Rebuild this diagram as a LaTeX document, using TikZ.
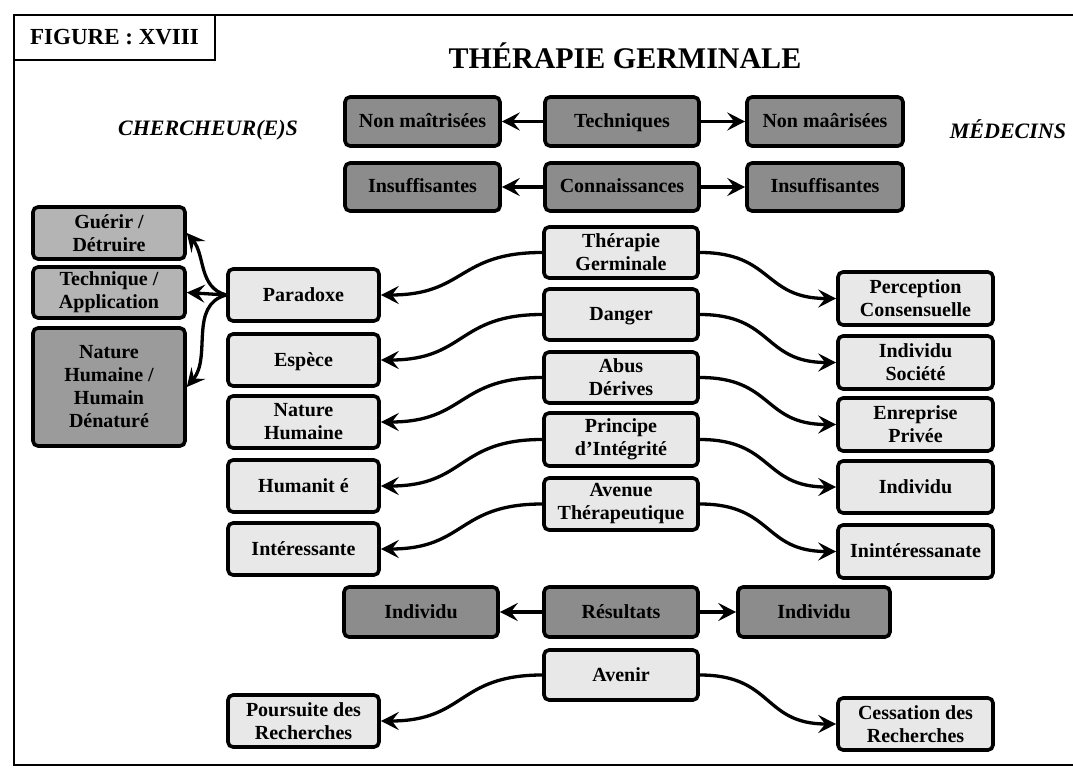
\documentclass[tikz,border=0pt]{standalone}
\usepackage{fontspec}
\setmainfont{Liberation Serif}
\usetikzlibrary{arrows.meta}
\definecolor{boxdark}{RGB}{140,140,140}
\definecolor{boxmid}{RGB}{180,180,180}
\definecolor{boxmidd}{RGB}{155,155,155}
\definecolor{boxlight}{RGB}{232,232,232}
\begin{document}
\begin{tikzpicture}[x=1pt,y=-1pt,
  box/.style={draw=black, line width=3.6pt, rounded corners=5pt, align=center,
    inner sep=0pt, font=\bfseries\fontsize{20}{23}\selectfont,
    minimum width=154, minimum height=50},
  one/.style={text height=14pt, text depth=2pt},
  darkbox/.style={box, fill=boxdark},
  midbox/.style={box, fill=boxmid},
  middbox/.style={box, fill=boxmidd},
  lightbox/.style={box, fill=boxlight},
  arr/.style={line width=3.3pt, -{Stealth[length=18pt,width=18pt,inset=7pt]}},
  wave/.style={arr, looseness=1.3},
  side/.style={font=\bfseries\itshape\fontsize{22}{24}\selectfont, anchor=base}
]
\useasboundingbox (0,0) rectangle (1073,770);

% outer frame (open on the right)
\draw[line width=2.8pt] (1073,15) -- (14,15) -- (14,765) -- (1073,765);
\node[draw, line width=2.8pt, minimum width=201, minimum height=45, inner sep=0pt,
      font=\bfseries\fontsize{23}{25}\selectfont] (fig) at (114.5,37.5) {FIGURE : XVIII};

% headings
\node[font=\bfseries\fontsize{30}{32}\selectfont, anchor=base] (title) at (625,69) {THÉRAPIE GERMINALE};
\node[side] (cher) at (208,136) {CHERCHEUR(E)S};
\node[side] (med) at (1008,139) {MÉDECINS};

% top rows
\node[darkbox, one, minimum width=155, minimum height=49] (nm1) at (422.5,121.5) {Non maîtrisées};
\node[darkbox, one, minimum width=154, minimum height=49] (tech) at (622,121.5) {Techniques};
\node[darkbox, one, minimum width=156, minimum height=49] (nm2) at (825,121.5) {Non maârisées};
\node[darkbox, one, minimum width=155, minimum height=48] (ins1) at (422.5,187) {Insuffisantes};
\node[darkbox, one, minimum width=154, minimum height=48] (conn) at (622,187) {Connaissances};
\node[darkbox, one, minimum width=156, minimum height=48] (ins2) at (825,187) {Insuffisantes};

% centre column
\node[lightbox, minimum height=51] (tg) at (621,252.5) {Thérapie\\Germinale};
\node[lightbox, one, minimum height=51] (dang) at (621,314.5) {Danger};
\node[lightbox, minimum height=51] (abus) at (621,377.5) {Abus\\Dérives};
\node[lightbox, minimum height=53] (princ) at (621,439.5) {Principe\\d’Intégrité};
\node[lightbox, minimum height=52] (aven) at (621,504) {Avenue\\Thérapeutique};
\node[darkbox, one, minimum height=50] (res) at (621,612) {Résultats};
\node[lightbox, one, minimum height=50] (avenir) at (621,675) {Avenir};

% researchers' side
\node[lightbox, one, minimum width=151, minimum height=52] (par) at (303.5,295) {Paradoxe};
\node[lightbox, one, minimum width=151, minimum height=52] (esp) at (303.5,360) {Espèce};
\node[lightbox, minimum width=151, minimum height=52] (nath) at (303.5,422) {Nature\\Humaine};
\node[lightbox, one, minimum width=151, minimum height=52] (hum) at (303.5,486) {Humanit é};
\node[lightbox, one, minimum width=151, minimum height=52] (inte) at (303.5,549) {Intéressante};
\node[lightbox, minimum width=151, minimum height=52] (pour) at (303.5,721) {Poursuite des\\Recherches};
\node[darkbox, one, minimum width=154, minimum height=50] (ind1) at (421,612) {Individu};

\node[midbox, minimum width=152, minimum height=52] (gue) at (109,233) {Guérir /\\Détruire};
\node[midbox, minimum width=152, minimum height=51] (tecA) at (109,292.5) {Technique /\\Application};
\node[middbox, minimum width=152, minimum height=118] (natd) at (109,387) {Nature\\Humaine /\\Humain\\Dénaturé};

% physicians' side
\node[lightbox, minimum width=155, minimum height=53] (perc) at (915.5,298.5) {Perception\\Consensuelle};
\node[lightbox, minimum width=155, minimum height=53] (indsoc) at (915.5,362.5) {Individu\\Société};
\node[lightbox, minimum width=155, minimum height=53] (enr) at (915.5,424.5) {Enreprise\\Privée};
\node[lightbox, one, minimum width=155, minimum height=52] (indr) at (915.5,487) {Individu};
\node[lightbox, one, minimum width=155, minimum height=53] (inin) at (915.5,551.5) {Inintéressanate};
\node[lightbox, minimum width=155, minimum height=52] (cess) at (915.5,724) {Cessation des\\Recherches};
\node[darkbox, one, minimum width=152, minimum height=50] (ind2) at (814,612) {Individu};

% straight arrows
\draw[arr] (tech.west) -- (nm1.east);
\draw[arr] (tech.east) -- (nm2.west);
\draw[arr] (conn.west) -- (ins1.east);
\draw[arr] (conn.east) -- (ins2.west);
\draw[arr] (res.west) -- (ind1.east);
\draw[arr] (res.east) -- (ind2.west);

% curved arrows to the researchers' side
\foreach \a/\b in {tg/par, dang/esp, abus/nath, princ/hum, aven/inte, avenir/pour}
  \draw[wave] (\a.west) to[out=180,in=0] (\b.east);
% curved arrows to the physicians' side
\foreach \a/\b in {tg/perc, dang/indsoc, abus/enr, princ/indr, aven/inin, avenir/cess}
  \draw[wave] (\a.east) to[out=0,in=180] (\b.west);

% paradox fan
\draw[arr] (par.west) to[out=165,in=-50] (gue.east);
\draw[arr] (par.west) -- (tecA.east);
\draw[arr] (par.west) to[out=195,in=50] (natd.east);
\end{tikzpicture}
\end{document}
